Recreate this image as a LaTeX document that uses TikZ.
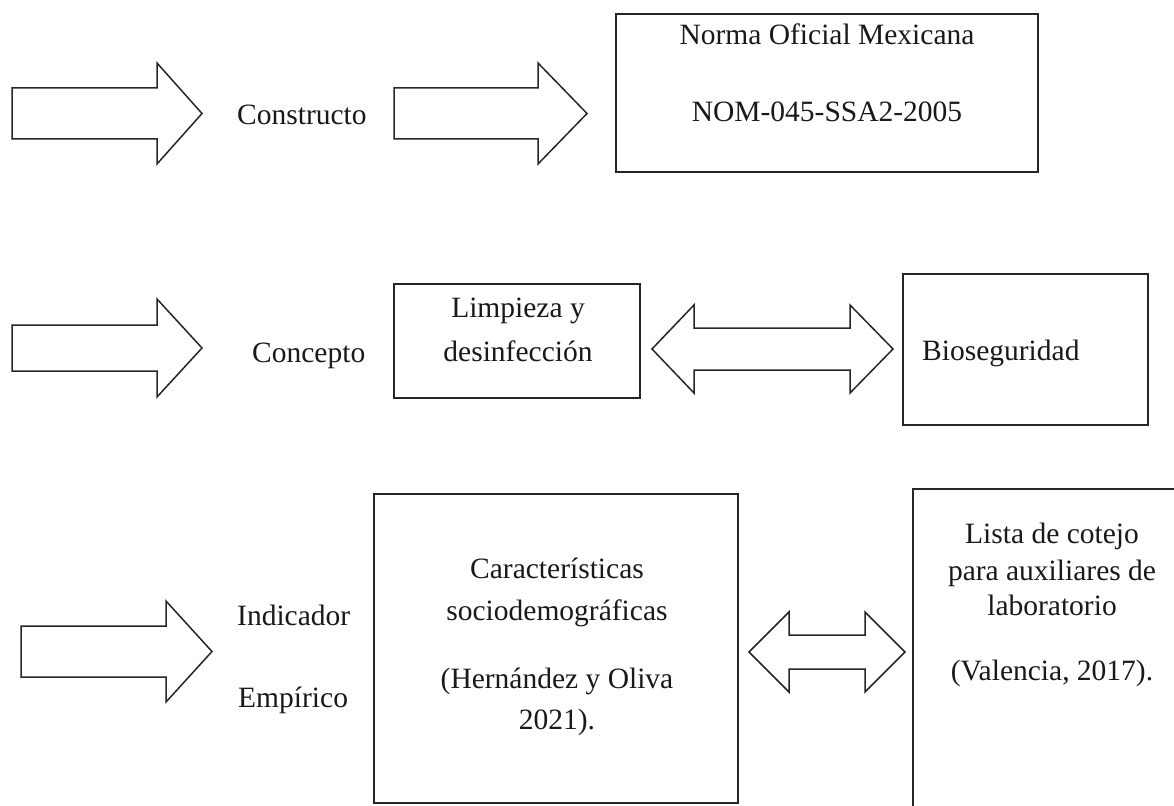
\documentclass[tikz,border=0pt]{standalone}
\usepackage{fontspec}
\setmainfont{Liberation Serif}
\begin{document}
\begin{tikzpicture}[x=1pt,y=-1pt,line join=miter]
\tikzset{
  blk/.style={draw=black!85, line width=1.5pt, fill=white},
  box/.style={draw=black!85, line width=1.5pt, inner sep=0pt, outer sep=0pt, anchor=north west},
  txt/.style={font=\fontsize{29.5}{36}\selectfont, inner sep=0pt, text=black!90},
}
\useasboundingbox[fill=white] (0,0) rectangle (1174,805);
% boxes
\node[box, minimum width=422pt, minimum height=158pt] (nom) at (616,14) {};
\node[box, minimum width=246pt, minimum height=114pt] (limp) at (394,284) {};
\node[box, minimum width=245pt, minimum height=151pt] (bio) at (903,274) {};
\node[box, minimum width=364pt, minimum height=309pt] (car) at (374,494) {};
\node[box, minimum width=279pt, minimum height=341pt] (lista) at (913,489) {};
% block arrows
\draw[blk] (12,88) -- (157,88) -- (157,63) -- (202,113.5) -- (157,164) -- (157,139) -- (12,139) -- cycle;
\draw[blk] (394,88) -- (538,88) -- (538,63) -- (587,113.5) -- (538,164) -- (538,139) -- (394,139) -- cycle;
\draw[blk] (12,325) -- (157,325) -- (157,299) -- (202,348) -- (157,397) -- (157,371) -- (12,371) -- cycle;
\draw[blk] (652,349) -- (694,305) -- (694,328) -- (850,328) -- (850,305) -- (893,349) -- (850,393) -- (850,370) -- (694,370) -- (694,393) -- cycle;
\draw[blk] (21,626) -- (166,626) -- (166,601) -- (212,651.5) -- (166,702) -- (166,677) -- (21,677) -- cycle;
\draw[blk] (749,652) -- (789,612) -- (789,635) -- (865,635) -- (865,612) -- (905,652) -- (865,692) -- (865,669) -- (789,669) -- (789,692) -- cycle;
% labels
\node[txt, anchor=base west] (constructo) at (237,125) {Constructo};
\node[txt, anchor=base west] (concepto) at (252,362) {Concepto};
\node[txt, anchor=base west] (indicador) at (237,625) {Indicador};
\node[txt, anchor=base west] (empirico) at (238,707) {Empírico};
\node[txt, anchor=base] (nom1) at (827,45) {Norma Oficial Mexicana};
\node[txt, anchor=base] (nom2) at (827,122) {NOM-045-SSA2-2005};
\node[txt, anchor=base] (limp1) at (518,317) {Limpieza y};
\node[txt, anchor=base] (limp2) at (518,361) {desinfección};
\node[txt, anchor=base west] (bio1) at (922,360) {Bioseguridad};
\node[txt, anchor=base] (car1) at (557,578) {Características};
\node[txt, anchor=base] (car2) at (557,620) {sociodemográficas};
\node[txt, anchor=base] (car3) at (557,688) {(Hernández y Oliva};
\node[txt, anchor=base] (car4) at (557,729) {2021).};
\node[txt, anchor=base] (lis1) at (1052,543) {Lista de cotejo};
\node[txt, anchor=base] (lis2) at (1052,580) {para auxiliares de};
\node[txt, anchor=base] (lis3) at (1052,615) {laboratorio};
\node[txt, anchor=base] (lis4) at (1052,680) {(Valencia, 2017).};
\end{tikzpicture}
\end{document}
